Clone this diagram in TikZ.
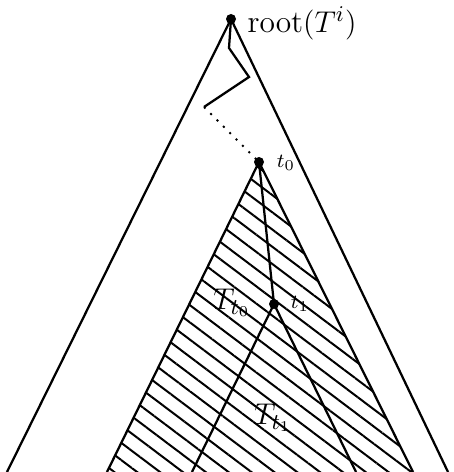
\documentclass[tikz,border=0pt]{standalone}
\usepackage{amsmath}
\usepackage{tikz}
\usetikzlibrary{positioning, patterns, patterns.meta}
\tikzset{
	vtx/.style    ={circle, fill=black, inner sep=0pt, minimum size=4pt},
	side/.style   ={line width=0.9pt},
	trail/.style  ={line width=0.9pt},
	dots/.style   ={line width=0.8pt, dash pattern=on 0.8pt off 2.8pt},
	hatch/.style  ={pattern={Lines[angle=-37, distance=5.5pt, line width=0.8pt]}},
	bigl/.style   ={font=\fontsize{12.6}{15}\selectfont, inner sep=0pt},
	smalll/.style ={font=\footnotesize, inner sep=0pt},
}
\begin{document}
\begin{tikzpicture}[x=0.4pt, y=-0.4pt]
	\useasboundingbox (0,0) rectangle (453,472);
	% vertices
	\coordinate (root) at (231,19);
	\coordinate (t0) at (259,162);
	\coordinate (t1) at (274,304);
	\coordinate (outL) at (7,472);   \coordinate (outR) at (448,472);
	\coordinate (hatL) at (107,472); \coordinate (hatR) at (413,472);
	\coordinate (subL) at (192,472); \coordinate (subR) at (356,472);
	\coordinate (z1) at (229,48); \coordinate (z2) at (249,77); \coordinate (z3) at (204,107);
	% hatched subtree T_{t_0}
	\fill[hatch] (t0) -- (hatL) -- (hatR) -- cycle;
	\draw[side] (hatL) -- (t0) -- (hatR);
	% outer tree
	\draw[side] (outL) -- (root) -- (outR);
	% subtree T_{t_1}
	\draw[side] (subL) -- (t1) -- (subR);
	% path down from the root
	\draw[trail] (root) -- (z1) -- (z2) -- (z3);
	\draw[dots] (z3) -- (t0);
	\draw[trail] (t0) -- (t1);
	\node[vtx] (rootdot) at (root) {};
	\node[vtx] (t0dot) at (t0) {};
	\node[vtx] (t1dot) at (t1) {};
	% labels
	\node[bigl, anchor=west] (rootlbl) at (247,23) {root$(T^i)$};
	\node[smalll] (t0lbl) at (286,163) {$t_0$};
	\node[smalll] (t1lbl) at (300,304) {$t_1$};
	\node[bigl] (Tt0) at (232,303) {$T_{t_0}$};
	\node[bigl] (Tt1) at (273,418) {$T_{t_1}$};
\end{tikzpicture}
\end{document}
